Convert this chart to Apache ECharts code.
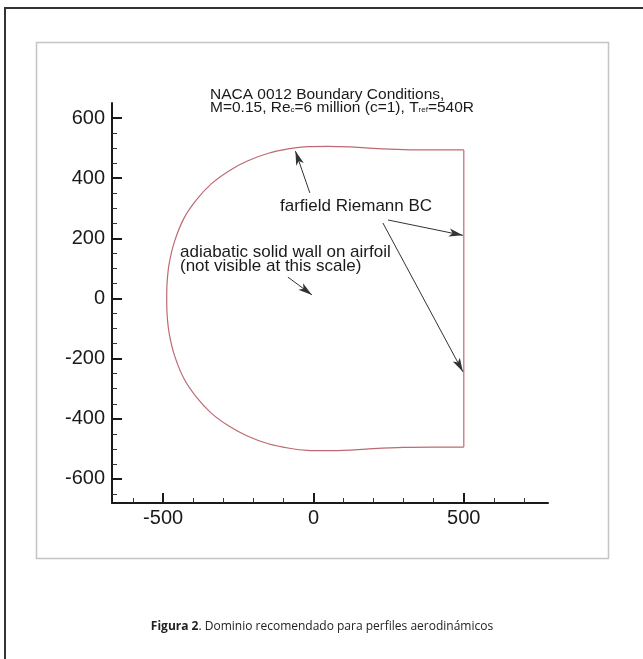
<!DOCTYPE html>
<html><head><meta charset="utf-8">
<script src="https://cdn.jsdelivr.net/npm/echarts@6/dist/echarts.min.js"></script>
<style>html,body{margin:0;padding:0;background:#fff}#c{width:643px;height:659px}</style>
</head><body><div id="c"></div>
<script>
// ---- data ----
const xMajorTicks = [-500, 0, 500];
const xMinorTicks = [-600, -400, -300, -200, -100, 100, 200, 300, 400, 600, 700];
const yMajorTicks = [-600, -400, -200, 0, 200, 400, 600];
const yMinorTicks = [-650, -550, -500, -450, -350, -300, -250, -150, -100, -50, 50, 100, 150, 250, 300, 350, 450, 500, 550];

// farfield boundary, traced counter-clockwise from upper-right corner
const boundaryX = [500, 400, 300, 200, 120, 50, -20, -80, -150, -220, -280, -340, -390, -430, -462, -480, -487, -488,
                   -487, -480, -462, -430, -390, -340, -280, -220, -150, -80, -20, 50, 120, 200, 300, 400, 500];
const boundaryY = [494, 494, 495, 499, 504, 506, 505, 498, 483, 457, 425, 381, 327, 268, 190, 115, 50, 0,
                   -50, -115, -190, -268, -327, -381, -425, -457, -483, -498, -505, -506, -504, -499, -495, -494, -494];

// annotation arrows (tail -> head) in data units
const arrowFrom = [[-12, 351], [248, 261], [231, 251], [-85, 71]];
const arrowTo   = [[-60, 490], [497, 210], [497, -244], [-5, 12]];

const titleLine1 = 'NACA 0012 Boundary Conditions,';
const farfieldText = 'farfield Riemann BC';
const wallText = ['adiabatic solid wall on airfoil', '(not visible at this scale)'];
const captionBold = 'Figura 2';
const captionRest = '. Dominio recomendado para perfiles aerodinámicos';

// ---- chart ----
const curve = boundaryX.map((x, i) => [x, boundaryY[i]]);
const edge = [curve[curve.length - 1], curve[0]];
const gridBox = { left: 112, top: 103, width: 436, height: 400 };
const ink = '#1a1a1a';
const font = 'Liberation Sans, Arial, sans-serif';

const chart = echarts.init(document.getElementById('c'));
chart.setOption({
  animation: false,
  backgroundColor: '#fff',
  grid: [Object.assign({}, gridBox), Object.assign({}, gridBox)],
  xAxis: [
    { type: 'value', gridIndex: 0, min: -670, max: 780, position: 'bottom',
      axisLine: { show: true, onZero: false, lineStyle: { color: ink, width: 2 } },
      axisTick: { show: true, inside: true, length: 10, customValues: xMajorTicks, lineStyle: { color: ink, width: 2 } },
      axisLabel: { show: true, customValues: xMajorTicks, fontFamily: font, fontSize: 20, color: ink, margin: 5 },
      splitLine: { show: false } },
    { type: 'value', gridIndex: 1, min: -670, max: 780, position: 'bottom',
      axisLine: { show: false, onZero: false },
      axisTick: { show: true, inside: true, length: 5, customValues: xMinorTicks, lineStyle: { color: '#333', width: 1 } },
      axisLabel: { show: false }, splitLine: { show: false } }
  ],
  yAxis: [
    { type: 'value', gridIndex: 0, min: -680, max: 650, position: 'left',
      axisLine: { show: true, onZero: false, lineStyle: { color: ink, width: 2 } },
      axisTick: { show: true, inside: true, length: 10, customValues: yMajorTicks, lineStyle: { color: ink, width: 2 } },
      axisLabel: { show: true, customValues: yMajorTicks, fontFamily: font, fontSize: 20, color: ink, margin: 7 },
      splitLine: { show: false } },
    { type: 'value', gridIndex: 1, min: -680, max: 650, position: 'left',
      axisLine: { show: false, onZero: false },
      axisTick: { show: true, inside: true, length: 5, customValues: yMinorTicks, lineStyle: { color: '#333', width: 1 } },
      axisLabel: { show: false }, splitLine: { show: false } }
  ],
  series: [
    { type: 'line', xAxisIndex: 0, yAxisIndex: 0, data: curve, showSymbol: false, smooth: 0.3,
      lineStyle: { color: '#bd6a72', width: 1.2 }, silent: true,
      markLine: {
        silent: true, symbol: ['none', 'arrow'], symbolSize: [6, 14],
        label: { show: false },
        lineStyle: { color: '#333', width: 1, type: 'solid' },
        data: arrowFrom.map((p, i) => [{ coord: p }, { coord: arrowTo[i] }])
      } },
    { type: 'line', xAxisIndex: 0, yAxisIndex: 0, data: edge, showSymbol: false,
      lineStyle: { color: '#bd6a72', width: 1.2 }, silent: true }
  ],
  graphic: [
    { type: 'rect', z: -10, shape: { x: 5, y: 8, width: 700, height: 700 },
      style: { fill: 'none', stroke: '#333', lineWidth: 2 } },
    { type: 'rect', z: -9, shape: { x: 36.5, y: 42.5, width: 572, height: 516 },
      style: { fill: 'none', stroke: '#c4c4c4', lineWidth: 1.5 } },
    { type: 'text', x: 210, y: 88,
      style: {
        text: '{t|' + titleLine1 + '}\n{t|M=0.15, Re}{s|c}{t|=6 million (c=1), T}{s|ref}{t|=540R}',
        rich: {
          t: { fontFamily: font, fontSize: 15.5, lineHeight: 13, fill: ink },
          s: { fontFamily: font, fontSize: 8, lineHeight: 6, verticalAlign: 'bottom', fill: ink }
        }
      } },
    { type: 'text', x: 280, y: 206,
      style: { text: farfieldText, font: '17px ' + font, fill: ink, verticalAlign: 'middle' } },
    { type: 'text', x: 180, y: 245,
      style: { text: wallText.join('\n'), font: '17px ' + font, lineHeight: 14, fill: ink } },
    { type: 'text', x: 322, y: 627,
      style: {
        text: '{b|' + captionBold + '}{n|' + captionRest + '}',
        align: 'center', verticalAlign: 'middle',
        rich: {
          b: { fontFamily: 'Open Sans', fontSize: 12, fontWeight: 'bold', fill: '#222' },
          n: { fontFamily: 'Open Sans', fontSize: 12, fill: '#222' }
        }
      } }
  ]
});
</script></body></html>
